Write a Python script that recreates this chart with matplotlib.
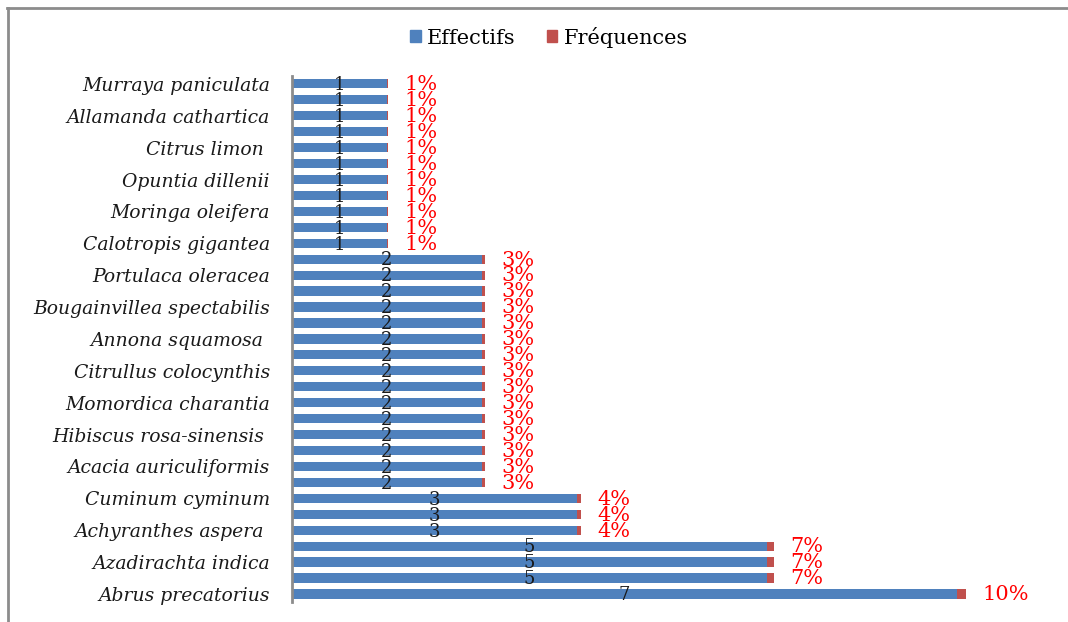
import matplotlib
matplotlib.use("Agg")
import matplotlib.pyplot as plt
from matplotlib.lines import Line2D
from matplotlib.patches import Patch

# species, bottom to top; only every other name is printed on the axis
species = [
    "Abrus precatorius", "", "Azadirachta indica", "",
    "Achyranthes aspera ", "", "Cuminum cyminum", "",
    "Acacia auriculiformis", "", "Hibiscus rosa-sinensis ", "",
    "Momordica charantia", "", "Citrullus colocynthis", "",
    "Annona squamosa ", "", "Bougainvillea spectabilis", "",
    "Portulaca oleracea", "", "Calotropis gigantea", "",
    "Moringa oleifera", "", "Opuntia dillenii", "",
    "Citrus limon ", "", "Allamanda cathartica", "",
    "Murraya paniculata",
]
effectifs = [7, 5, 5, 5, 3, 3, 3] + [2] * 15 + [1] * 11
frequences = [10, 7, 7, 7, 4, 4, 4] + [3] * 15 + [1] * 11   # in %

BLUE = "#4F81BD"
RED = "#C0504D"
FONT = "DejaVu Serif"

fig = plt.figure(figsize=(10.68, 6.22), dpi=100)
ax = fig.add_axes([0.2734, 0.0322, 0.7116, 0.8458])

pos = list(range(len(species)))
freq_frac = [f / 100 for f in frequences]
ax.barh(pos, effectifs, height=0.58, color=BLUE, zorder=2)
ax.barh(pos, freq_frac, left=effectifs, height=0.58, color=RED, zorder=2)

for y, e, f, ff in zip(pos, effectifs, frequences, freq_frac):
    ax.text(e / 2, y - 0.08, str(e), ha="center", va="center",
            fontsize=13, family=FONT, color="#1a1a1a", zorder=3)
    ax.text(e + ff + 0.17, y - 0.05, f"{f}%", ha="left", va="center",
            fontsize=15, family=FONT, color="#FF0000", zorder=3)

ax.set_xlim(0, 8)
ax.set_ylim(-0.5, len(species) - 0.5)
ax.set_yticks(pos)
ax.set_yticklabels(species, fontsize=13.5, family=FONT, style="italic", color="#1a1a1a")
ax.tick_params(axis="y", length=0, pad=16)
ax.set_xticks([])
for side in ["top", "right", "bottom"]:
    ax.spines[side].set_visible(False)
ax.spines["left"].set_color("#8c8c8c")
ax.spines["left"].set_linewidth(2)

handles = [Patch(color=BLUE, label="Effectifs"), Patch(color=RED, label="Fréquences")]
fig.legend(handles=handles, loc="center", bbox_to_anchor=(0.514, 0.94), ncol=2,
           frameon=False, prop={"family": FONT, "size": 15},
           handlelength=0.5, handleheight=0.5, handletextpad=0.3, columnspacing=1.5)

# chart-area border (top and left edges)
fig.add_artist(Line2D([7 / 1068, 1], [1 - 8 / 622, 1 - 8 / 622], transform=fig.transFigure,
                      color="#8c8c8c", lw=2))
fig.add_artist(Line2D([8 / 1068, 8 / 1068], [0, 1 - 8 / 622], transform=fig.transFigure,
                      color="#8c8c8c", lw=2))

fig.savefig("out.png", dpi=100)
